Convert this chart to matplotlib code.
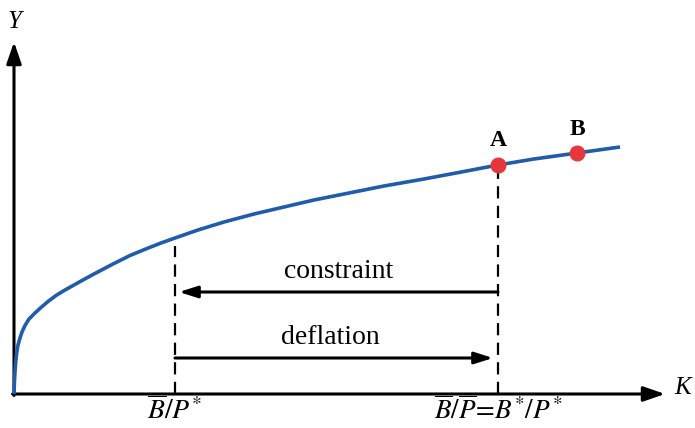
import matplotlib.pyplot as plt

plt.rcParams["mathtext.fontset"] = "stix"

# curve (K, Y in pixel-like units from the origin)
curve_k = [0, 0.5, 1, 1.7, 2.7, 4, 6, 8, 11, 15, 21, 27, 34, 42, 51, 60, 68, 79,
           99, 116, 133, 147, 161, 184, 210, 240, 270, 300, 335, 370, 410, 450,
           484, 520, 563, 606]
curve_y = [0, 14, 22, 32, 41, 49, 56, 62, 68.5, 75, 81, 86.5, 92.5, 98.5, 104, 109,
           113.5, 119.5, 130, 138.5, 145.5, 151, 156, 164, 172, 180, 187, 194,
           201, 208, 215, 222.5, 229, 235, 241, 247]

point_names = ["A", "B"]
point_k = [484, 563]
point_y = [229, 241]

k_low = 161        # B/P*
k_high = 484       # B/P = B*/P*
y_low = 156
constraint_y = 102
deflation_y = 36

x_axis_end = 651
y_axis_end = 352

fig = plt.figure(figsize=(6.95, 4.28), dpi=100)
ax = fig.add_axes([0, 0, 1, 1])
ax.set_xlim(-14, 681)
ax.set_ylim(-34, 394)
ax.axis("off")

serif = "Liberation Serif"
blue = "#1f5cab"
red = "#e8373c"

# axes with arrowheads
ax.annotate("", xy=(x_axis_end, 0), xytext=(-1.5, 0),
            arrowprops=dict(arrowstyle="-|>,head_length=1.3,head_width=0.45",
                            lw=2.2, color="black", shrinkA=0, shrinkB=0))
ax.annotate("", xy=(0, y_axis_end), xytext=(0, -1.5),
            arrowprops=dict(arrowstyle="-|>,head_length=1.3,head_width=0.45",
                            lw=2.2, color="black", shrinkA=0, shrinkB=0))
ax.text(x_axis_end + 9, 6, "K", fontsize=18, family=serif, style="italic",
        ha="left", va="center")
ax.text(1, y_axis_end + 20, "Y", fontsize=18, family=serif, style="italic",
        ha="center", va="center")

# dashed guides
ax.plot([k_low, k_low], [0, y_low - 8], color="black", lw=1.6,
        linestyle=(0, (5.5, 3.3)))
ax.plot([k_high, k_high], [0, point_y[0]], color="black", lw=1.6,
        linestyle=(0, (5.5, 3.3)))

# curve and points
ax.plot(curve_k, curve_y, color=blue, lw=2.6, solid_capstyle="butt",
        solid_joinstyle="round", zorder=3)
ax.plot(point_k, point_y, "o", color=red, ms=10.5, zorder=4)
for name, k, y in zip(point_names, point_k, point_y):
    ax.text(k, y + 24, name, fontsize=17, family=serif, weight="bold",
            ha="center", va="center")

# constraint / deflation arrows
ax.annotate("", xy=(k_low + 4, constraint_y), xytext=(k_high, constraint_y),
            arrowprops=dict(arrowstyle="-|>,head_length=1.1,head_width=0.35",
                            lw=2.2, color="black", shrinkA=0, shrinkB=0))
ax.annotate("", xy=(k_high - 5, deflation_y), xytext=(k_low, deflation_y),
            arrowprops=dict(arrowstyle="-|>,head_length=1.1,head_width=0.35",
                            lw=2.2, color="black", shrinkA=0, shrinkB=0))
ax.text((k_low + k_high) / 2 + 2, constraint_y + 21, "constraint", fontsize=20,
        family=serif, ha="center", va="center")
ax.text((k_low + k_high) / 2 - 6, deflation_y + 20, "deflation", fontsize=20,
        family=serif, ha="center", va="center")

# bottom labels
ax.text(k_low, -17, r"$\overline{B}/P^{*}$", fontsize=20, ha="center", va="center")
ax.text(k_high, -17, r"$\overline{B}/\overline{P}\!=\!B^{*}/P^{*}$",
        fontsize=19.5, ha="center", va="center")

fig.savefig("out.png", dpi=100)
